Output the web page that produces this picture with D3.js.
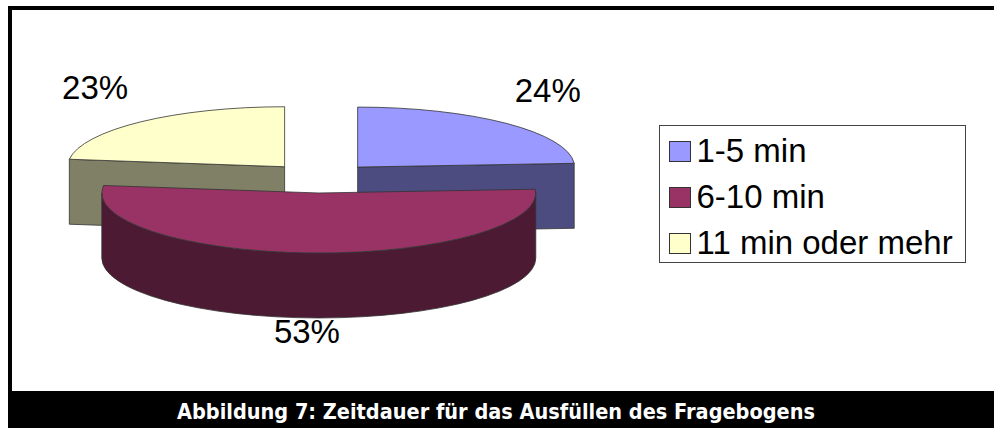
<!DOCTYPE html>
<html>
<head>
<meta charset="utf-8">
<script src="https://cdn.jsdelivr.net/npm/d3@7"></script>
<style>
body { margin: 0; background: #fff; }
svg { display: block; }
</style>
</head>
<body>
<script>
var categories = ["1-5 min", "6-10 min", "11 min oder mehr"];
var shares = [24, 53, 23];
var pctLabels = ["24%", "53%", "23%"];
var topColors = ["#9999ff", "#993366", "#ffffcc"];
var sideColors = ["#4c4c80", "#4d1a33", "#808066"];
var title = "Abbildung 7: Zeitdauer für das Ausfüllen des Fragebogens";

var w = 994, h = 428;
var cx = 320.5, cy = 178;     // pie centre
var rx = 217, ry = 60;         // ellipse radii
var depth = 65;                // thickness
var explode = 0.25;

var svg = d3.select('body')
.append('svg')
.attr('width', w)
.attr('height', h);

// frame
svg.append('rect').attr('x', 8).attr('y', 6).attr('width', w - 8).attr('height', 4).attr('fill', '#000');
svg.append('rect').attr('x', 8).attr('y', 6).attr('width', 4).attr('height', 386).attr('fill', '#000');
svg.append('rect').attr('x', 8).attr('y', 391).attr('width', w - 8).attr('height', h - 391).attr('fill', '#000');

svg.append('text')
.attr('x', 496)
.attr('y', 419)
.attr('text-anchor', 'middle')
.attr('textLength', 638)
.attr('lengthAdjust', 'spacingAndGlyphs')
.attr('font-family', 'DejaVu Sans, sans-serif')
.attr('font-weight', 'bold')
.attr('font-size', 22)
.attr('fill', '#fff')
.text(title);

var topColor = d3.scaleOrdinal().domain(categories).range(topColors);
var sideColor = d3.scaleOrdinal().domain(categories).range(sideColors);

var arcs = d3.pie().sort(null).value(function(d) { return d; })(shares);

arcs.forEach(function(d, i) {
    d.cat = categories[i];
    d.label = pctLabels[i];
    d.mid = (d.startAngle + d.endAngle) / 2;
    d.c = [cx + explode * rx * Math.sin(d.mid), cy - explode * ry * Math.cos(d.mid)];
});

function pt(c, a, z) {
    return [c[0] + rx * Math.sin(a), c[1] - ry * Math.cos(a) + (z || 0)];
}

function topPath(d) {
    var p0 = pt(d.c, d.startAngle), p1 = pt(d.c, d.endAngle);
    var large = d.endAngle - d.startAngle > Math.PI ? 1 : 0;
    return 'M' + d.c + 'L' + p0 + 'A' + rx + ',' + ry + ' 0 ' + large + ' 1 ' + p1 + 'Z';
}

function wallPath(d) {
    var b0 = Math.max(d.startAngle, Math.PI / 2);
    var b1 = Math.min(d.endAngle, 3 * Math.PI / 2);
    if (b1 <= b0) return null;
    var large = b1 - b0 > Math.PI ? 1 : 0;
    return 'M' + pt(d.c, b0) + 'A' + rx + ',' + ry + ' 0 ' + large + ' 1 ' + pt(d.c, b1) +
        'L' + pt(d.c, b1, depth) + 'A' + rx + ',' + ry + ' 0 ' + large + ' 0 ' + pt(d.c, b0, depth) + 'Z';
}

function facePath(d, a) {
    return 'M' + d.c + 'L' + pt(d.c, a) + 'L' + pt(d.c, a, depth) + 'L' + [d.c[0], d.c[1] + depth] + 'Z';
}

var order = arcs.slice().sort(function(a, b) { return a.c[1] - b.c[1]; });

var slice = svg.append('g')
.selectAll('g')
.data(order)
.enter().append('g')
.each(function(d) {
    var g = d3.select(this);
    var faces = [];
    if (Math.sin(d.startAngle) < -1e-6) faces.push(d.startAngle);
    if (Math.sin(d.endAngle) > 1e-6) faces.push(d.endAngle);
    faces.forEach(function(a) {
        g.append('path').attr('d', facePath(d, a))
        .attr('fill', sideColor(d.cat)).attr('stroke', '#333').attr('stroke-width', 0.8)
        .attr('stroke-linejoin', 'round');
    });
    var wp = wallPath(d);
    if (wp) {
        g.append('path').attr('d', wp)
        .attr('fill', sideColor(d.cat)).attr('stroke', '#333').attr('stroke-width', 0.8)
        .attr('stroke-linejoin', 'round');
    }
    g.append('path').attr('d', topPath(d))
    .attr('fill', topColor(d.cat)).attr('stroke', '#333').attr('stroke-width', 0.8)
    .attr('stroke-linejoin', 'round');
});

// data labels
svg.append('g')
.selectAll('text')
.data(arcs)
.enter().append('text')
.attr('x', function(d) { return cx - 3 + 1.55 * rx * Math.sin(d.mid); })
.attr('y', function(d) {
    var c = Math.cos(d.mid);
    return cy - ry * c * (c > 0 ? 2.0 : 1.47) + (c < 0 ? depth : 0) + 11.5;
})
.attr('text-anchor', 'middle')
.attr('font-family', 'Liberation Sans, Arial, sans-serif')
.attr('font-size', 33)
.attr('fill', '#000')
.text(function(d) { return d.label; });

// legend
var legend = svg.append('g').attr('transform', 'translate(659.5,125.5)');
legend.append('rect')
.attr('width', 306).attr('height', 137)
.attr('fill', '#fff').attr('stroke', '#444').attr('stroke-width', 1);

var item = legend.selectAll('g.item')
.data(categories)
.enter().append('g')
.attr('class', 'item')
.attr('transform', function(d, i) { return 'translate(0,' + (i * 46) + ')'; });

item.append('rect')
.attr('x', 10).attr('y', 16).attr('width', 21).attr('height', 20)
.attr('fill', function(d) { return topColor(d); })
.attr('stroke', '#333').attr('stroke-width', 1);

item.append('text')
.attr('x', 37).attr('y', 36.5)
.attr('font-family', 'Liberation Sans, Arial, sans-serif')
.attr('font-size', 33)
.attr('fill', '#000')
.text(function(d) { return d; });
</script>
</body>
</html>
